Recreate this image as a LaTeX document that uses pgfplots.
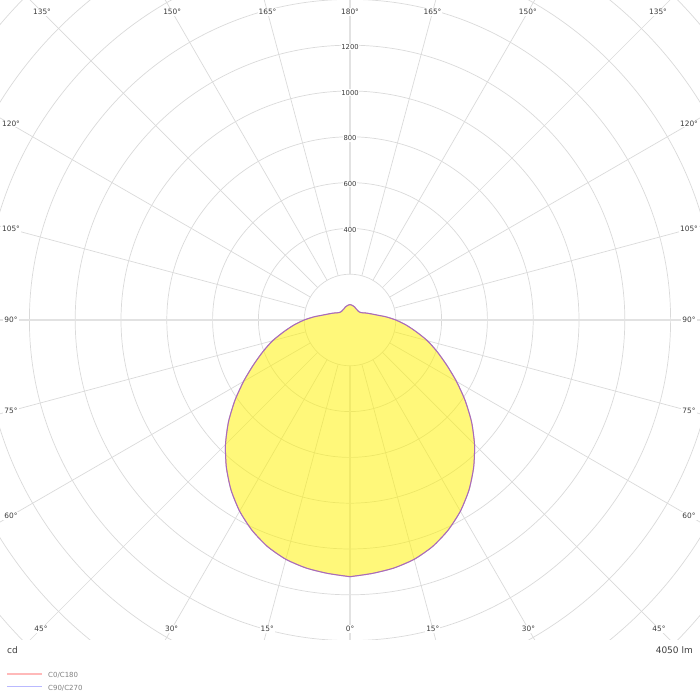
\documentclass[border=0pt]{standalone}
\usepackage{pgfplots}
\pgfplotsset{compat=1.18}
\usepackage{pgfplotstable}
\usepackage{fontspec}
\setmainfont{DejaVu Sans}
\definecolor{gridc}{RGB}{218,218,218}
\definecolor{axc}{RGB}{226,226,226}
\definecolor{txt}{RGB}{60,60,60}
\definecolor{legr}{RGB}{255,185,185}
\definecolor{legb}{RGB}{185,185,255}
\definecolor{cr}{RGB}{210,120,150}
\definecolor{cb}{RGB}{135,100,215}

% C0/C180 plane: phi = polar angle of the drawing (0 deg of the chart = -90)
\pgfplotstableread{
phi cd
-90 1121
-85 1111
-80 1100
-75 1082
-70 1053
-65 1013
-60 964
-55 906
-50 840
-45 769
-40 693
-35 614
-30 537
-25 466
-20 405
-15 350
-10 293
-5 245
0 200
5 158
10 122
15 100
20 85
25 73
30 63
35 57
40 54
45 53
50 53
55 54
60 55
65 57
70 60
75 62
80 64
85 66
90 67
95 66
100 64
105 62
110 60
115 57
120 55
125 54
130 53
135 53
140 54
145 57
150 63
155 73
160 85
165 100
170 122
175 158
180 200
185 245
190 293
195 350
200 405
205 466
210 537
215 614
220 693
225 769
230 840
235 906
240 964
245 1013
250 1053
255 1082
260 1100
265 1111
270 1121
}\czero

% C90/C270 plane
\pgfplotstableread{
phi cd
-90 1121
-85 1111
-80 1100
-75 1082
-70 1053
-65 1013
-60 964
-55 906
-50 840
-45 769
-40 693
-35 614
-30 537
-25 466
-20 405
-15 350
-10 293
-5 245
0 200
5 158
10 122
15 100
20 85
25 73
30 63
35 57
40 54
45 53
50 53
55 54
60 55
65 57
70 60
75 62
80 64
85 66
90 67
95 66
100 64
105 62
110 60
115 57
120 55
125 54
130 53
135 53
140 54
145 57
150 63
155 73
160 85
165 100
170 122
175 158
180 200
185 245
190 293
195 350
200 405
205 466
210 537
215 614
220 693
225 769
230 840
235 906
240 964
245 1013
250 1053
255 1082
260 1100
265 1111
270 1121
}\cninety

\begin{document}
\begin{tikzpicture}[x=1pt,y=1pt]
\path[use as bounding box] (0,0) rectangle (700,700);
\begin{scope}
\clip (0,60) rectangle (700,700);
% rings every 200 cd
\foreach \r in {200,400,...,2400}
  \draw[gridc, line width=0.7pt] (350,380) circle[radius={\r*0.229}];
% radial lines every 15 deg
\foreach \a in {15,30,45,60,75,105,120,135,150,165,195,210,225,240,255,285,300,315,330,345}
  \draw[gridc, line width=0.7pt] (350,380) ++(\a:45.8) -- ++(\a:600);
\foreach \a in {0,90,180,270}
  \draw[axc, line width=1.5pt] (350,380) ++(\a:45.8) -- ++(\a:600);
% value labels
\foreach \v in {400,600,800,1000,1200}
  \node[fill=white, inner sep=0.6pt, font=\fontsize{6.8}{8}\selectfont, text=txt] at (350,{378.4+\v*0.229}) {\v};
% angle labels
\tikzset{al/.style={fill=white, inner sep=1pt, font=\fontsize{7.4}{8}\selectfont, text=txt}}
\node[al] at (350,71) {0°};
\node[al] at (432.8,71) {15°};
\node[al] at (267.2,71) {15°};
\node[al] at (528.4,71) {30°};
\node[al] at (171.6,71) {30°};
\node[al] at (659,71) {45°};
\node[al] at (41,71) {45°};
\node[al] at (689,183.7) {60°};
\node[al] at (11,183.7) {60°};
\node[al] at (689,288.9) {75°};
\node[al] at (11,288.9) {75°};
\node[al] at (689,380) {90°};
\node[al] at (11,380) {90°};
\node[al] at (689,471.1) {105°};
\node[al] at (11,471.1) {105°};
\node[al] at (689,576.3) {120°};
\node[al] at (11,576.3) {120°};
\node[al] at (658,688) {135°};
\node[al] at (42,688) {135°};
\node[al] at (527.8,688) {150°};
\node[al] at (172.2,688) {150°};
\node[al] at (432.5,688) {165°};
\node[al] at (267.5,688) {165°};
\node[al] at (350,688) {180°};
\end{scope}

\begin{axis}[at={(0pt,60pt)}, anchor=south west, scale only axis,
  width=700pt, height=640pt,
  xmin=-1528.38, xmax=1528.38, ymin=-1397.38, ymax=1397.38,
  hide axis, clip=true]
\addplot[draw=none, fill=yellow, fill opacity=0.52, smooth, tension=0.4, data cs=polar]
  table[x=phi, y=cd] {\czero};
\addplot[cr, line width=1pt, smooth, tension=0.4, data cs=polar] table[x=phi, y=cd] {\czero};
\addplot[cb, line width=1pt, opacity=0.6, smooth, tension=0.4, data cs=polar] table[x=phi, y=cd] {\cninety};
\end{axis}

% footer
\node[anchor=west, inner sep=0pt, font=\fontsize{9}{10}\selectfont, text=txt] at (7,50) {cd};
\node[anchor=east, inner sep=0pt, font=\fontsize{9}{10}\selectfont, text=txt] at (693,50) {4050 lm};
\draw[legr, line width=1.4pt] (7,26) -- (42,26);
\draw[legb, line width=1.4pt] (7,13.3) -- (42,13.3);
\node[anchor=west, inner sep=0pt, font=\fontsize{7}{8}\selectfont, text=gray] at (48,25) {C0/C180};
\node[anchor=west, inner sep=0pt, font=\fontsize{7}{8}\selectfont, text=gray] at (48,11.7) {C90/C270};
\end{tikzpicture}
\end{document}
